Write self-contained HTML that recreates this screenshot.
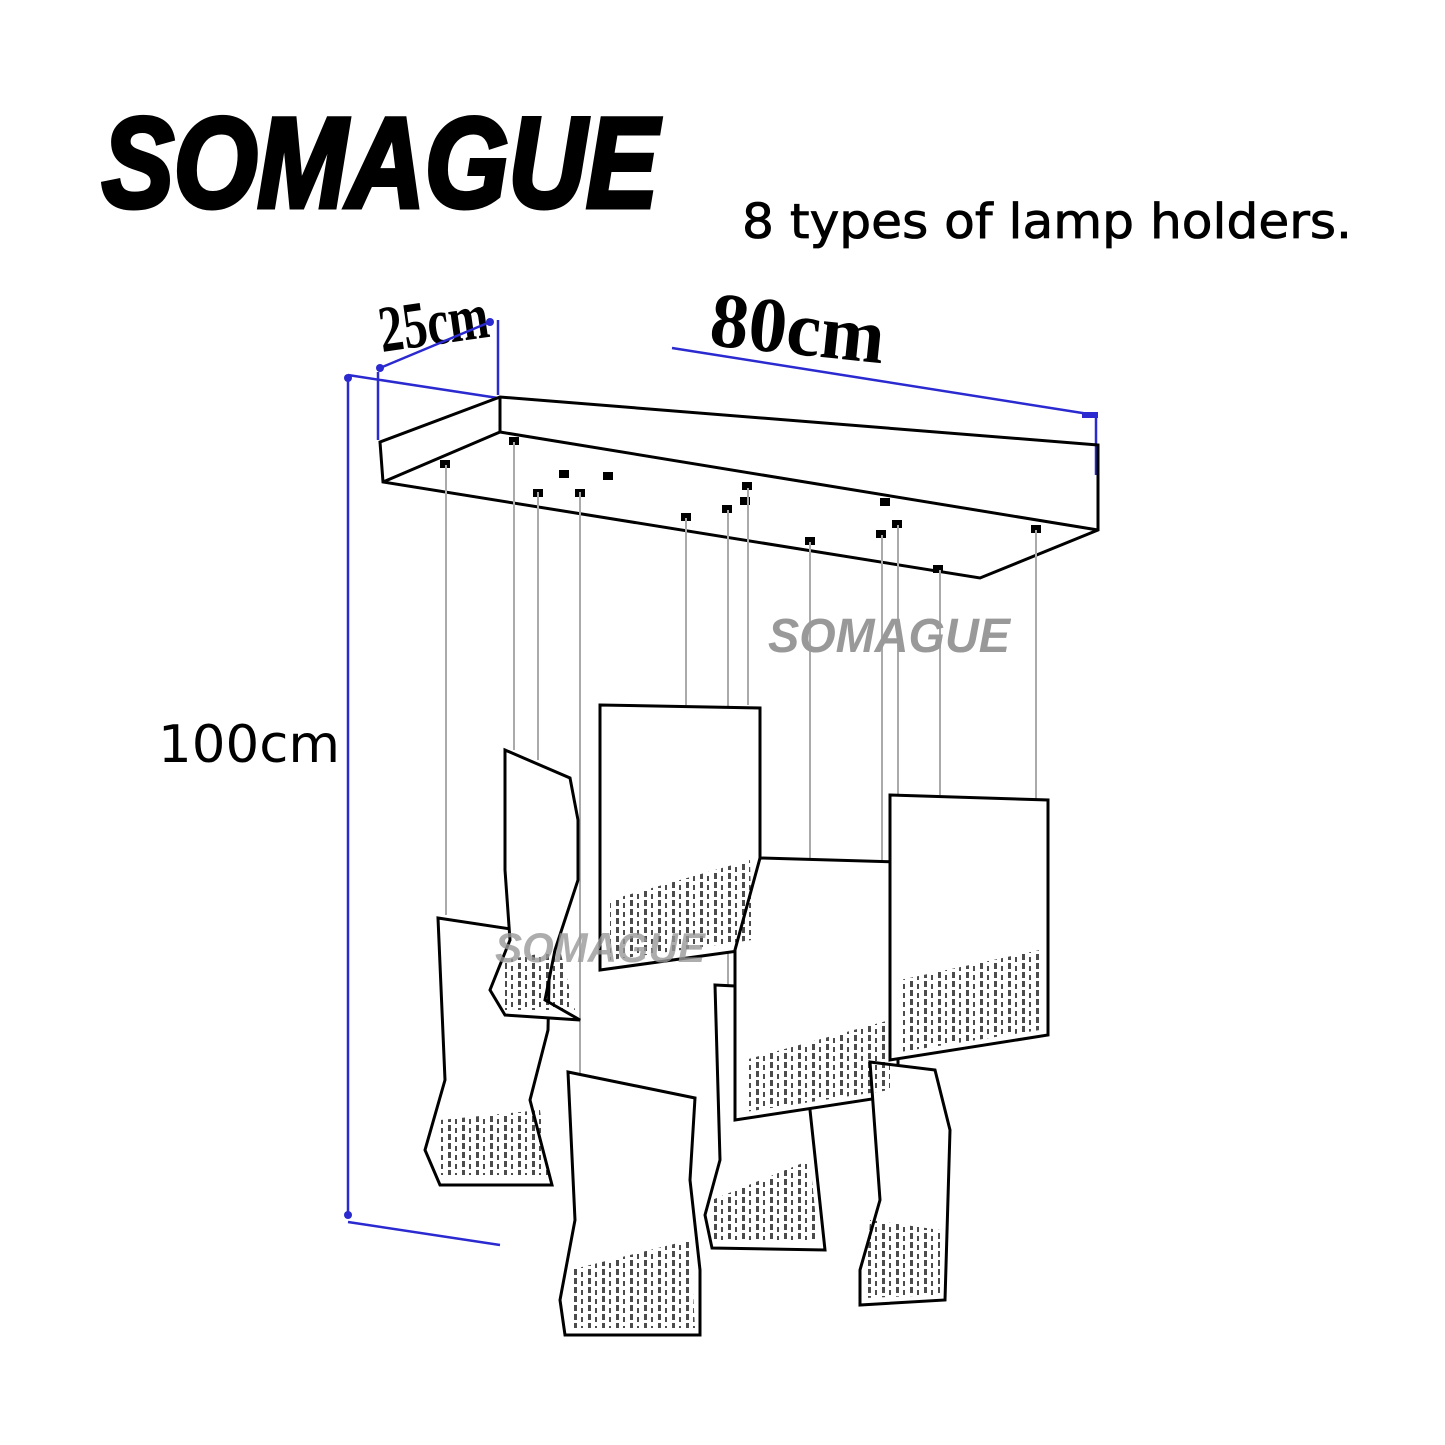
<!DOCTYPE html>
<html><head><meta charset="utf-8"><style>
html,body{margin:0;padding:0;background:#fff;}
svg{display:block}
</style></head><body>
<svg width="1445" height="1445" viewBox="0 0 1445 1445" xmlns="http://www.w3.org/2000/svg">
<defs>
<pattern id="h" width="14" height="9" patternUnits="userSpaceOnUse">
<rect x="0" y="0" width="3" height="6" fill="#000"/>
<rect x="7" y="3" width="2" height="5" fill="#000"/>
</pattern>
</defs>
<rect width="1445" height="1445" fill="#fff"/>
<text x="102" y="207" font-family="Liberation Sans, sans-serif" font-weight="900" font-style="italic" font-size="128" fill="#000" stroke="#000" stroke-width="5" textLength="556" lengthAdjust="spacingAndGlyphs">SOMAGUE</text>
<text x="742" y="238" font-family="DejaVu Sans, Liberation Sans, sans-serif" font-size="48" fill="#000" stroke="#000" stroke-width="0.8" textLength="610" lengthAdjust="spacingAndGlyphs">8 types of lamp holders.</text>
<text x="0" y="0" transform="translate(382,352) rotate(-8)" font-family="Liberation Serif, serif" font-weight="bold" font-size="66" fill="#000" textLength="110" lengthAdjust="spacingAndGlyphs">25cm</text>
<text x="0" y="0" transform="translate(708,345) rotate(6)" font-family="Liberation Serif, serif" font-weight="bold" font-size="78" fill="#000" textLength="175" lengthAdjust="spacingAndGlyphs">80cm</text>
<text x="158" y="762" font-family="DejaVu Sans, Liberation Sans, sans-serif" font-size="52" fill="#000" textLength="182" lengthAdjust="spacingAndGlyphs">100cm</text>
<g stroke="#2a2ad0" stroke-width="2.5" fill="none">
<line x1="380" y1="368" x2="490" y2="322"/>
<line x1="378" y1="372" x2="378" y2="440"/>
<line x1="498" y1="320" x2="498" y2="395"/>
<line x1="672" y1="348" x2="1095" y2="415"/>
<line x1="1096" y1="415" x2="1096" y2="475"/>
<line x1="348" y1="378" x2="348" y2="1215"/>
<line x1="348" y1="1222" x2="500" y2="1245"/>
<line x1="348" y1="375" x2="498" y2="398"/>
</g>
<g fill="#2a2ad0"><circle cx="348" cy="378" r="4"/><circle cx="348" cy="1215" r="4"/><circle cx="380" cy="368" r="4"/><circle cx="490" cy="322" r="4"/><rect x="1082" y="412" width="16" height="6"/></g>
<g stroke="#000" stroke-width="3" fill="none">
<polygon points="380,442 500,397 1098,445 1098,530 980,578 383,482"/>
<line x1="500" y1="397" x2="500" y2="432"/>
<line x1="500" y1="432" x2="1098" y2="530"/>
<line x1="383" y1="482" x2="500" y2="432"/>
</g>
<g fill="#000">
<rect x="440" y="460" width="10" height="8"/><rect x="509" y="437" width="10" height="8"/>
<rect x="533" y="489" width="10" height="8"/><rect x="575" y="489" width="10" height="8"/>
<rect x="559" y="470" width="10" height="8"/><rect x="603" y="472" width="10" height="8"/>
<rect x="681" y="513" width="10" height="8"/><rect x="722" y="505" width="10" height="8"/>
<rect x="742" y="482" width="10" height="8"/><rect x="740" y="497" width="10" height="8"/>
<rect x="805" y="537" width="10" height="8"/><rect x="876" y="530" width="10" height="8"/>
<rect x="880" y="498" width="10" height="8"/><rect x="892" y="520" width="10" height="8"/>
<rect x="933" y="565" width="10" height="8"/><rect x="1031" y="525" width="10" height="8"/>
</g>
<g stroke="#aaa" stroke-width="2">
<line x1="446" y1="465" x2="446" y2="915"/>
<line x1="514" y1="442" x2="514" y2="750"/>
<line x1="538" y1="492" x2="538" y2="760"/>
<line x1="580" y1="492" x2="580" y2="1075"/>
<line x1="686" y1="518" x2="686" y2="705"/>
<line x1="728" y1="510" x2="728" y2="985"/>
<line x1="748" y1="488" x2="748" y2="705"/>
<line x1="810" y1="542" x2="810" y2="858"/>
<line x1="882" y1="535" x2="882" y2="860"/>
<line x1="898" y1="525" x2="898" y2="795"/>
<line x1="940" y1="570" x2="940" y2="795"/>
<line x1="1036" y1="530" x2="1036" y2="800"/>
</g>
<g fill="#fff" stroke="#000" stroke-width="3">
<path d="M438,918 L550,935 L548,1030 L530,1100 L552,1185 L440,1185 L425,1150 L445,1080 Z"/>
<path d="M505,750 L570,778 L578,820 L578,880 L555,950 L545,1000 L580,1020 L505,1015 L490,990 L510,940 L505,870 Z"/>
<path d="M568,1072 L695,1098 L690,1180 L700,1270 L700,1335 L565,1335 L560,1300 L575,1220 Z"/>
<path d="M600,705 L760,708 L760,948 L600,970 Z"/>
<path d="M715,985 L815,990 L810,1110 L825,1250 L712,1248 L705,1215 L720,1160 Z"/>
<path d="M760,858 L898,862 L898,1095 L735,1120 L735,950 Z"/>
<path d="M870,1062 L935,1070 L950,1130 L945,1300 L860,1305 L860,1270 L880,1200 Z"/>
<path d="M890,795 L1048,800 L1048,1035 L890,1060 Z"/>
</g>
<g fill="url(#h)" opacity="0.7">
<polygon points="440,1120 540,1110 548,1175 440,1175"/>
<polygon points="505,960 560,950 575,1010 505,1010"/>
<polygon points="570,1270 690,1240 695,1328 570,1328"/>
<polygon points="610,900 750,860 752,940 610,960"/>
<polygon points="712,1200 810,1160 818,1240 712,1240"/>
<polygon points="745,1060 890,1020 890,1090 745,1112"/>
<polygon points="870,1220 940,1230 940,1295 865,1298"/>
<polygon points="900,980 1040,950 1040,1030 900,1052"/>
</g>
<text x="768" y="652" font-family="Liberation Sans, sans-serif" font-weight="900" font-style="italic" font-size="48" fill="#999" textLength="242" lengthAdjust="spacingAndGlyphs">SOMAGUE</text>
<text x="495" y="962" font-family="Liberation Sans, sans-serif" font-weight="900" font-style="italic" font-size="42" fill="#999" opacity="0.8" textLength="210" lengthAdjust="spacingAndGlyphs">SOMAGUE</text>
</svg>
</body></html>
